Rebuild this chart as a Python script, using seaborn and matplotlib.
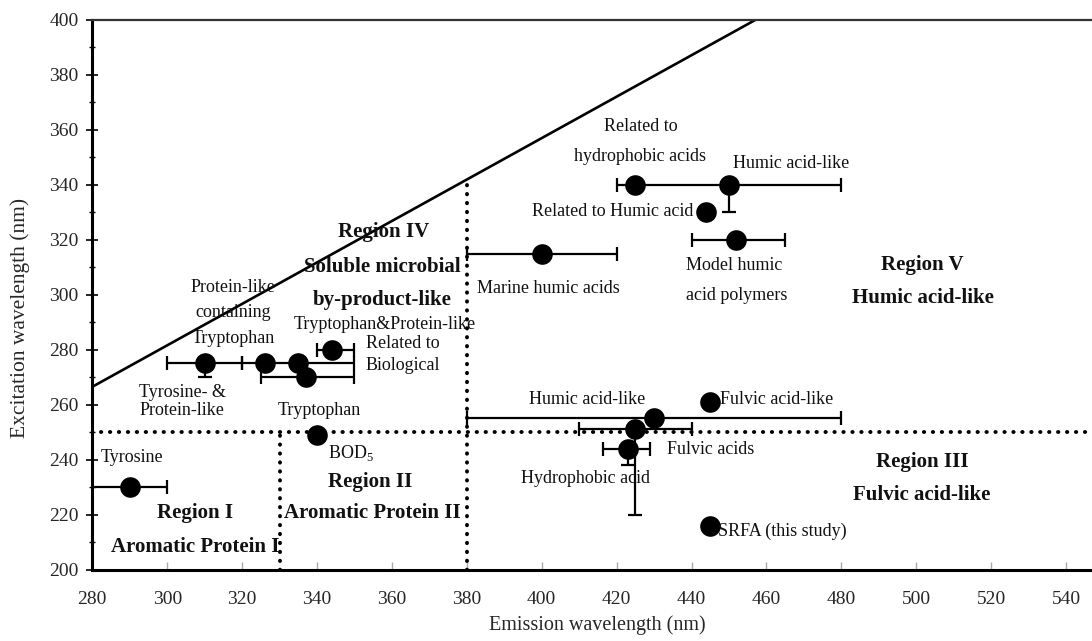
import numpy as np
import pandas as pd
import matplotlib
matplotlib.use("Agg")
import matplotlib.pyplot as plt
import seaborn as sns

sns.set_theme(style="white")
plt.rcParams["font.family"] = ["Liberation Serif", "DejaVu Serif"]
plt.rcParams["mathtext.fontset"] = "custom"
plt.rcParams["mathtext.rm"] = "Liberation Serif"

# Fluorescence peak positions: emission / excitation wavelength (nm)
peak_em = [290, 310, 326, 335, 337, 344, 340, 400, 425, 450, 444, 452, 445, 430, 425, 423, 445]
peak_ex = [230, 275, 275, 275, 270, 280, 249, 315, 340, 340, 330, 320, 261, 255, 251, 244, 216]
# reported ranges around each peak
em_err_lo = [10, 10, 0, 15, 12, 4, 0, 20, 0, 30, 0, 12, 0, 50, 15, 6.5, 0]
em_err_hi = [10, 10, 0, 15, 13, 6, 0, 20, 0, 30, 0, 13, 0, 50, 15, 6, 0]
ex_err_lo = [0, 5, 0, 0, 0, 0, 0, 0, 0, 10, 0, 0, 0, 0, 31, 6, 0]
ex_err_hi = [0, 0, 0, 0, 0, 0, 0, 0, 0, 0, 0, 0, 0, 0, 0, 0, 0]

# region boundaries
em_split = [330, 380]
ex_split = 250
diag_em = [280, 457]
diag_ex = [266.5, 400]

x_ticks = [280, 300, 320, 340, 360, 380, 400, 420, 440, 460, 480, 500, 520, 540]
y_ticks = [200, 220, 240, 260, 280, 300, 320, 340, 360, 380, 400]

# peak annotations: text, (em, ex) anchor, alignment
note_text = ["Tyrosine", "Tyrosine- &", "Protein-like", "Protein-like", "containing",
             "Tryptophan", "Tryptophan&Protein-like", "Related to", "Biological",
             "Tryptophan", "BOD$_5$", "Marine humic acids", "Related to",
             "hydrophobic acids", "Humic acid-like", "Related to Humic acid",
             "Model humic", "acid polymers", "Humic acid-like", "Fulvic acid-like",
             "Fulvic acids", "Hydrophobic acid", "SRFA (this study)"]
note_pos = [(290.6, 240.6), (304, 264.6), (304, 258.0), (317.6, 302.7), (317.6, 293.7),
            (317.6, 284.2), (358.2, 289.0), (353, 282.4), (353, 274.4),
            (340.5, 258.0), (343, 242.4), (401.8, 302.3), (426.4, 361.2),
            (426.2, 350.2), (451, 347.8), (440.5, 330.2),
            (451.4, 310.8), (452, 299.9), (412.2, 261.7), (447.6, 261.7),
            (433.4, 243.5), (411.6, 233.2), (447.2, 213.8)]
note_ha = ["center", "center", "center", "center", "center",
           "center", "center", "left", "left",
           "center", "left", "center", "center",
           "center", "left", "right",
           "center", "center", "center", "left",
           "left", "center", "left"]

# region names
region_text = ["Region I", "Aromatic Protein I", "Region II", "Aromatic Protein II",
               "Region III", "Fulvic acid-like", "Region IV", "Soluble microbial",
               "by-product-like", "Region V", "Humic acid-like"]
region_pos = [(307.5, 220.6), (307.5, 208.2), (354.2, 231.9), (354.7, 220.6),
              (501.7, 239.2), (501.5, 227.1), (357.9, 322.8), (357.4, 310.1),
              (357.4, 298.1), (501.7, 310.8), (501.9, 298.7)]

df = pd.DataFrame({"em": peak_em, "ex": peak_ex,
                   "em_lo": em_err_lo, "em_hi": em_err_hi,
                   "ex_lo": ex_err_lo, "ex_hi": ex_err_hi})

W, H = 1092, 641
fig = plt.figure(figsize=(W / 100, H / 100), dpi=100)
x0_px, y0_px, px_per_em, px_per_ex = 92.3, 569.5, 3.745, 2.7475
xlim = (280, 560)
ylim = (200, 400)
ax_w_px = (xlim[1] - xlim[0]) * px_per_em
ax_h_px = (ylim[1] - ylim[0]) * px_per_ex
ax = fig.add_axes([x0_px / W, (H - y0_px) / H, ax_w_px / W, ax_h_px / H])
ax.set_xlim(*xlim)
ax.set_ylim(*ylim)

# region boundaries
dot_style = dict(color="black", lw=2.8, linestyle=(0, (0.1, 2.2)),
                 dash_capstyle="round", zorder=2)
ax.axhline(ex_split, **dot_style)
ax.plot([em_split[0], em_split[0]], [ylim[0], ex_split], **dot_style)
ax.plot([em_split[1], em_split[1]],
        [ylim[0], np.interp(em_split[1], diag_em, diag_ex)], **dot_style)
ax.plot(diag_em, diag_ex, color="black", lw=1.9, zorder=2)

# ranges
bar_style = dict(fmt="none", ecolor="black", elinewidth=1.6, capsize=5,
                 capthick=1.6, zorder=2.5)
xe = df[(df.em_lo > 0) | (df.em_hi > 0)]
ax.errorbar(xe.em, xe.ex, xerr=[xe.em_lo, xe.em_hi], **bar_style)
ye = df[(df.ex_lo > 0) | (df.ex_hi > 0)]
ax.errorbar(ye.em, ye.ex, yerr=[ye.ex_lo, ye.ex_hi], **bar_style)

sns.scatterplot(data=df, x="em", y="ex", color="black", s=220, linewidth=0,
                zorder=3, ax=ax, legend=False)

for t, (x, y), ha in zip(note_text, note_pos, note_ha):
    ax.text(x, y, t, ha=ha, va="center", fontsize=13, color="#111111", zorder=4)
for t, (x, y) in zip(region_text, region_pos):
    ax.text(x, y, t, ha="center", va="center", fontsize=15, fontweight="bold",
            color="#111111", zorder=4)

ax.set_xticks(x_ticks)
ax.set_yticks(y_ticks)
ax.set_yticks(np.arange(210, 400, 20), minor=True)
ax.tick_params(axis="y", which="major", direction="inout", length=8, width=1.2,
               color="black", labelsize=14, pad=6, left=True)
ax.tick_params(axis="y", which="minor", direction="inout", length=5, width=1.0,
               color="black", left=True)
ax.tick_params(axis="x", which="major", direction="in", length=6, width=1.0,
               color="#aaaaaa", labelsize=14, pad=15.5, bottom=True)

for side in ["left", "bottom"]:
    ax.spines[side].set_linewidth(2.2)
    ax.spines[side].set_color("black")
ax.spines["top"].set_linewidth(1.6)
ax.spines["top"].set_color("#333333")
ax.spines["right"].set_visible(False)

ax.set_xlabel("Emission wavelength (nm)", fontsize=14.5, va="center")
ax.xaxis.set_label_coords((597 - x0_px) / ax_w_px, (y0_px - 625) / ax_h_px)
ax.set_ylabel("Excitation wavelength (nm)", fontsize=15.5, va="center")
ax.yaxis.set_label_coords((20 - x0_px) / ax_w_px, (y0_px - 318) / ax_h_px)
ax.grid(False)

fig.savefig("out.png", dpi=100)
